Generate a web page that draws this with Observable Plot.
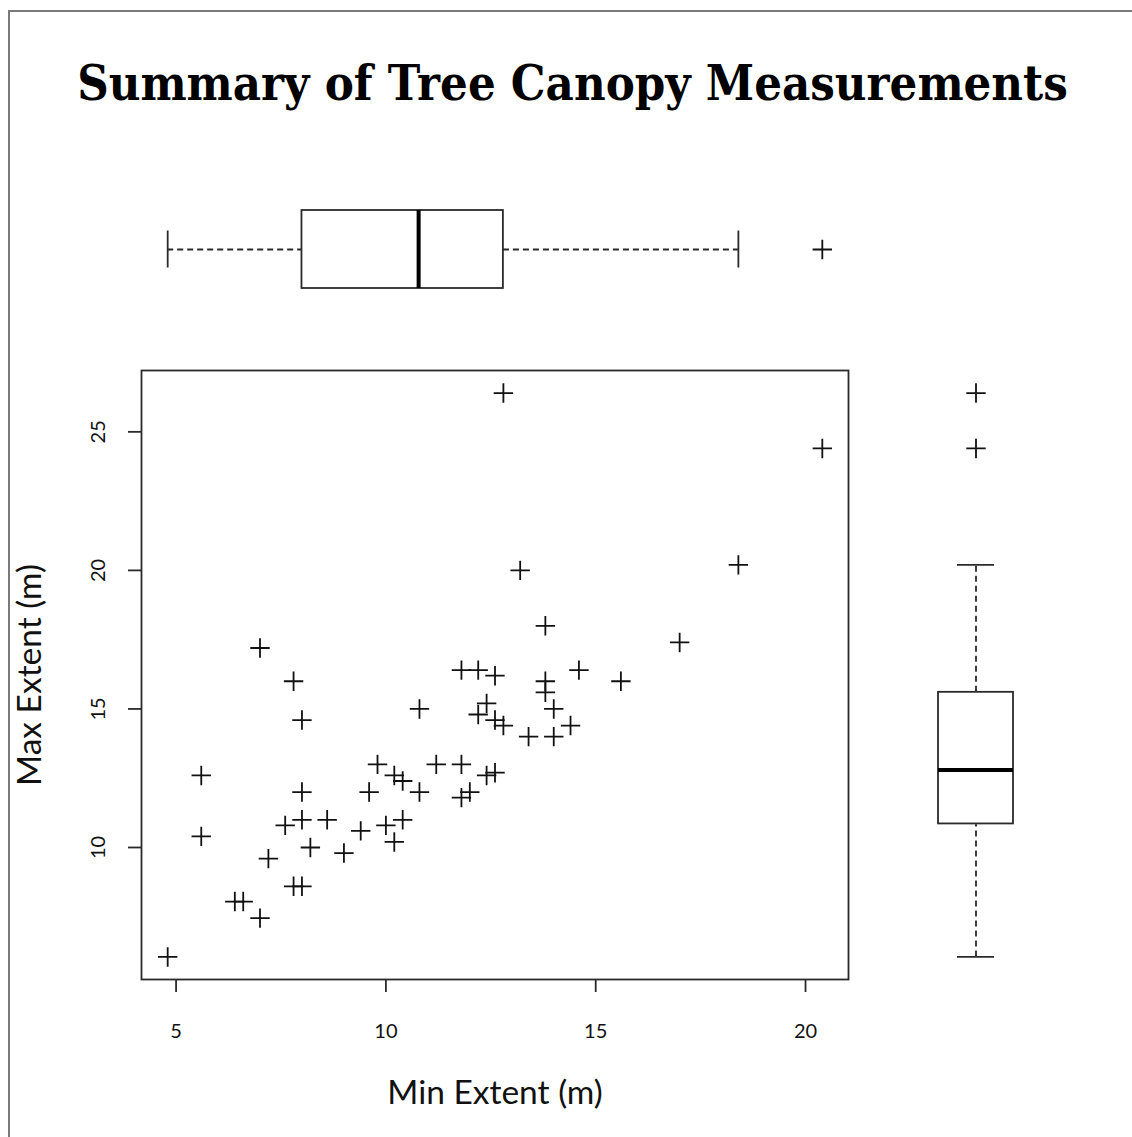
<!DOCTYPE html>
<html>
<head>
<meta charset="utf-8">
<script src="https://cdn.jsdelivr.net/npm/d3@7"></script>
<script src="https://cdn.jsdelivr.net/npm/@observablehq/plot@0.6"></script>
<style>
  html, body { margin: 0; padding: 0; background: #fff; }
  #page { position: relative; width: 1132px; height: 1137px; overflow: hidden; background: #fff; }
  #border { position: absolute; left: 8px; top: 10px; width: 1200px; height: 1200px;
            border-left: 2px solid #7a7a7a; border-top: 2px solid #7a7a7a; }
  .layer { position: absolute; }
  .layer svg { overflow: visible; }
</style>
</head>
<body>
<div id="page">
  <div id="border"></div>
  <svg id="title" class="layer" style="left:0;top:0" width="1132" height="140"></svg>
  <div id="topbox" class="layer" style="left:0;top:190px"></div>
  <div id="scatter" class="layer" style="left:0;top:340px"></div>
  <div id="rightbox" class="layer" style="left:900px;top:340px"></div>
</div>
<script>
// ---- data ----
const titleText = "Summary of Tree Canopy Measurements";
const xLabel = "Min Extent (m)";
const yLabel = "Max Extent (m)";

const minExtent = [4.8, 5.6, 5.6, 6.4, 6.6, 7.0, 7.2, 7.0, 7.8, 8.0, 7.6, 8.0, 7.8, 8.0, 8.0, 8.2, 8.6, 9.0, 9.4, 9.6,
  9.8, 10.0, 10.2, 10.4, 10.2, 10.4, 10.8, 10.8, 11.2, 11.8, 11.8, 12.0, 11.8, 12.2, 12.4, 12.2, 12.6, 12.6, 12.4, 12.6,
  13.8, 13.8, 14.6, 15.6, 14.0, 12.8, 13.4, 14.0, 14.4, 12.8, 20.4, 13.2, 18.4, 13.8, 17.0];
const maxExtent = [6.05, 12.6, 10.4, 8.05, 8.05, 7.45, 9.6, 17.2, 16.0, 14.6, 10.8, 11.0, 8.6, 8.6, 12.0, 10.0, 11.0, 9.8, 10.6, 12.0,
  13.0, 10.8, 10.2, 11.0, 12.6, 12.4, 12.0, 15.0, 13.0, 13.0, 11.8, 12.0, 16.4, 16.4, 15.2, 14.8, 16.2, 14.6, 12.6, 12.7,
  16.0, 15.6, 16.4, 16.0, 15.0, 14.4, 14.0, 14.0, 14.4, 26.4, 24.4, 20.0, 20.2, 18.0, 17.4];

const xTicks = [5, 10, 15, 20];
const yTicks = [10, 15, 20, 25];

// boxplot statistics [lower whisker, lower hinge, median, upper hinge, upper whisker]
const minBox = [4.8, 8.0, 10.78, 12.8, 18.4];
const minOutliers = [20.4];
const maxBox = [6.05, 10.85, 12.8, 15.6, 20.2];
const maxOutliers = [24.4, 26.4];

// ---- derived ----
const points = minExtent.map((d, i) => ({min: d, max: maxExtent[i]}));
function padDomain(v) { const [a, b] = d3.extent(v); const p = (b - a) * 0.04; return [a - p, b + p]; }
const xDom = padDomain(minExtent);
const yDom = padDomain(maxExtent);

const ink = "#111";
const lineCol = "#2a2a2a";
const lw = 1.8;
const plusR = 6.3;
const dash = "6,4";
const sansFont = "Lato, 'Open Sans', sans-serif";

// ---- title ----
const tsvg = d3.select("#title");
const tText = tsvg.append("text")
  .attr("x", 0).attr("y", 0)
  .attr("text-anchor", "middle")
  .attr("font-family", "'DejaVu Serif', 'Liberation Serif', serif")
  .attr("font-weight", "bold")
  .attr("font-size", 48)
  .attr("fill", "#000")
  .text(titleText);
const natW = tText.node().getComputedTextLength() || 991;
tText.attr("transform", `translate(572.5,100) scale(${991 / natW},1)`);

// ---- scatter ----
const W = 900, H = 797, mT = 30, mL = 141, mR = 52, mB = 158;
const frameW = W - mL - mR, frameH = H - mT - mB;
const scatter = Plot.plot({
  width: W, height: H,
  marginTop: mT, marginLeft: mL, marginRight: mR, marginBottom: mB,
  x: {domain: xDom, axis: null}, y: {domain: yDom, axis: null},
  style: {fontFamily: sansFont, color: ink, background: "transparent", overflow: "visible"},
  marks: [
    // x ticks + labels
    Plot.tickX(xTicks, {x: d => d, insetTop: frameH, insetBottom: -13, stroke: lineCol, strokeWidth: lw}),
    Plot.text(xTicks, {x: d => d, frameAnchor: "bottom", dy: 44, lineAnchor: "top", textAnchor: "middle", fontSize: 20, fill: ink}),
    // y ticks + labels
    Plot.tickY(yTicks, {y: d => d, insetLeft: -13, insetRight: frameW, stroke: lineCol, strokeWidth: lw}),
    Plot.text(yTicks, {y: d => d, frameAnchor: "left", dx: -37, rotate: -90, textAnchor: "middle", lineAnchor: "bottom", fontSize: 20, fill: ink}),
    // axis titles
    Plot.text([xLabel], {frameAnchor: "bottom", dy: 124, lineAnchor: "bottom", textAnchor: "middle", fontSize: 33.5, fill: ink}),
    Plot.text([yLabel], {frameAnchor: "left", dx: -101, rotate: -90, textAnchor: "middle", lineAnchor: "bottom", fontSize: 33.5, fill: ink}),
    Plot.frame({stroke: lineCol, strokeWidth: lw}),
    Plot.dot(points, {x: "min", y: "max", symbol: "plus", r: plusR, stroke: ink, strokeWidth: lw})
  ]
});
document.getElementById("scatter").appendChild(scatter);

// ---- top boxplot (shares x scale) ----
const topRow = [{k: "Min", lo: minBox[0], q1: minBox[1], med: minBox[2], q3: minBox[3], hi: minBox[4]}];
const topPlot = Plot.plot({
  width: W, height: 120,
  marginTop: 20, marginBottom: 22, marginLeft: mL, marginRight: mR,
  x: {domain: xDom, axis: null},
  y: {domain: ["Min"], axis: null, padding: 0},
  style: {background: "transparent", overflow: "visible"},
  marks: [
    Plot.ruleY(topRow, {y: "k", x1: "lo", x2: "q1", stroke: lineCol, strokeWidth: lw, strokeDasharray: dash}),
    Plot.ruleY(topRow, {y: "k", x1: "q3", x2: "hi", stroke: lineCol, strokeWidth: lw, strokeDasharray: dash}),
    Plot.tickX(topRow, {x: "lo", y: "k", insetTop: 20.5, insetBottom: 20.5, stroke: lineCol, strokeWidth: lw}),
    Plot.tickX(topRow, {x: "hi", y: "k", insetTop: 20.5, insetBottom: 20.5, stroke: lineCol, strokeWidth: lw}),
    Plot.barX(topRow, {y: "k", x1: "q1", x2: "q3", fill: "#fff", stroke: lineCol, strokeWidth: lw}),
    Plot.tickX(topRow, {x: "med", y: "k", stroke: "#000", strokeWidth: 4}),
    Plot.dot(minOutliers, {x: d => d, y: () => "Min", symbol: "plus", r: plusR, stroke: ink, strokeWidth: lw})
  ]
});
document.getElementById("topbox").appendChild(topPlot);

// ---- right boxplot (shares y scale) ----
const rightRow = [{k: "Max", lo: maxBox[0], q1: maxBox[1], med: maxBox[2], q3: maxBox[3], hi: maxBox[4]}];
const rightPlot = Plot.plot({
  width: 150, height: H,
  marginTop: mT, marginBottom: mB, marginLeft: 37.5, marginRight: 37.5,
  y: {domain: yDom, axis: null},
  x: {domain: ["Max"], axis: null, padding: 0},
  style: {background: "transparent", overflow: "visible"},
  marks: [
    Plot.ruleX(rightRow, {x: "k", y1: "lo", y2: "q1", stroke: lineCol, strokeWidth: lw, strokeDasharray: dash}),
    Plot.ruleX(rightRow, {x: "k", y1: "q3", y2: "hi", stroke: lineCol, strokeWidth: lw, strokeDasharray: dash}),
    Plot.tickY(rightRow, {y: "lo", x: "k", insetLeft: 19, insetRight: 19, stroke: lineCol, strokeWidth: lw}),
    Plot.tickY(rightRow, {y: "hi", x: "k", insetLeft: 19, insetRight: 19, stroke: lineCol, strokeWidth: lw}),
    Plot.barY(rightRow, {x: "k", y1: "q1", y2: "q3", fill: "#fff", stroke: lineCol, strokeWidth: lw}),
    Plot.tickY(rightRow, {y: "med", x: "k", stroke: "#000", strokeWidth: 4}),
    Plot.dot(maxOutliers, {y: d => d, x: () => "Max", symbol: "plus", r: plusR, stroke: ink, strokeWidth: lw})
  ]
});
document.getElementById("rightbox").appendChild(rightPlot);
</script>
</body>
</html>
